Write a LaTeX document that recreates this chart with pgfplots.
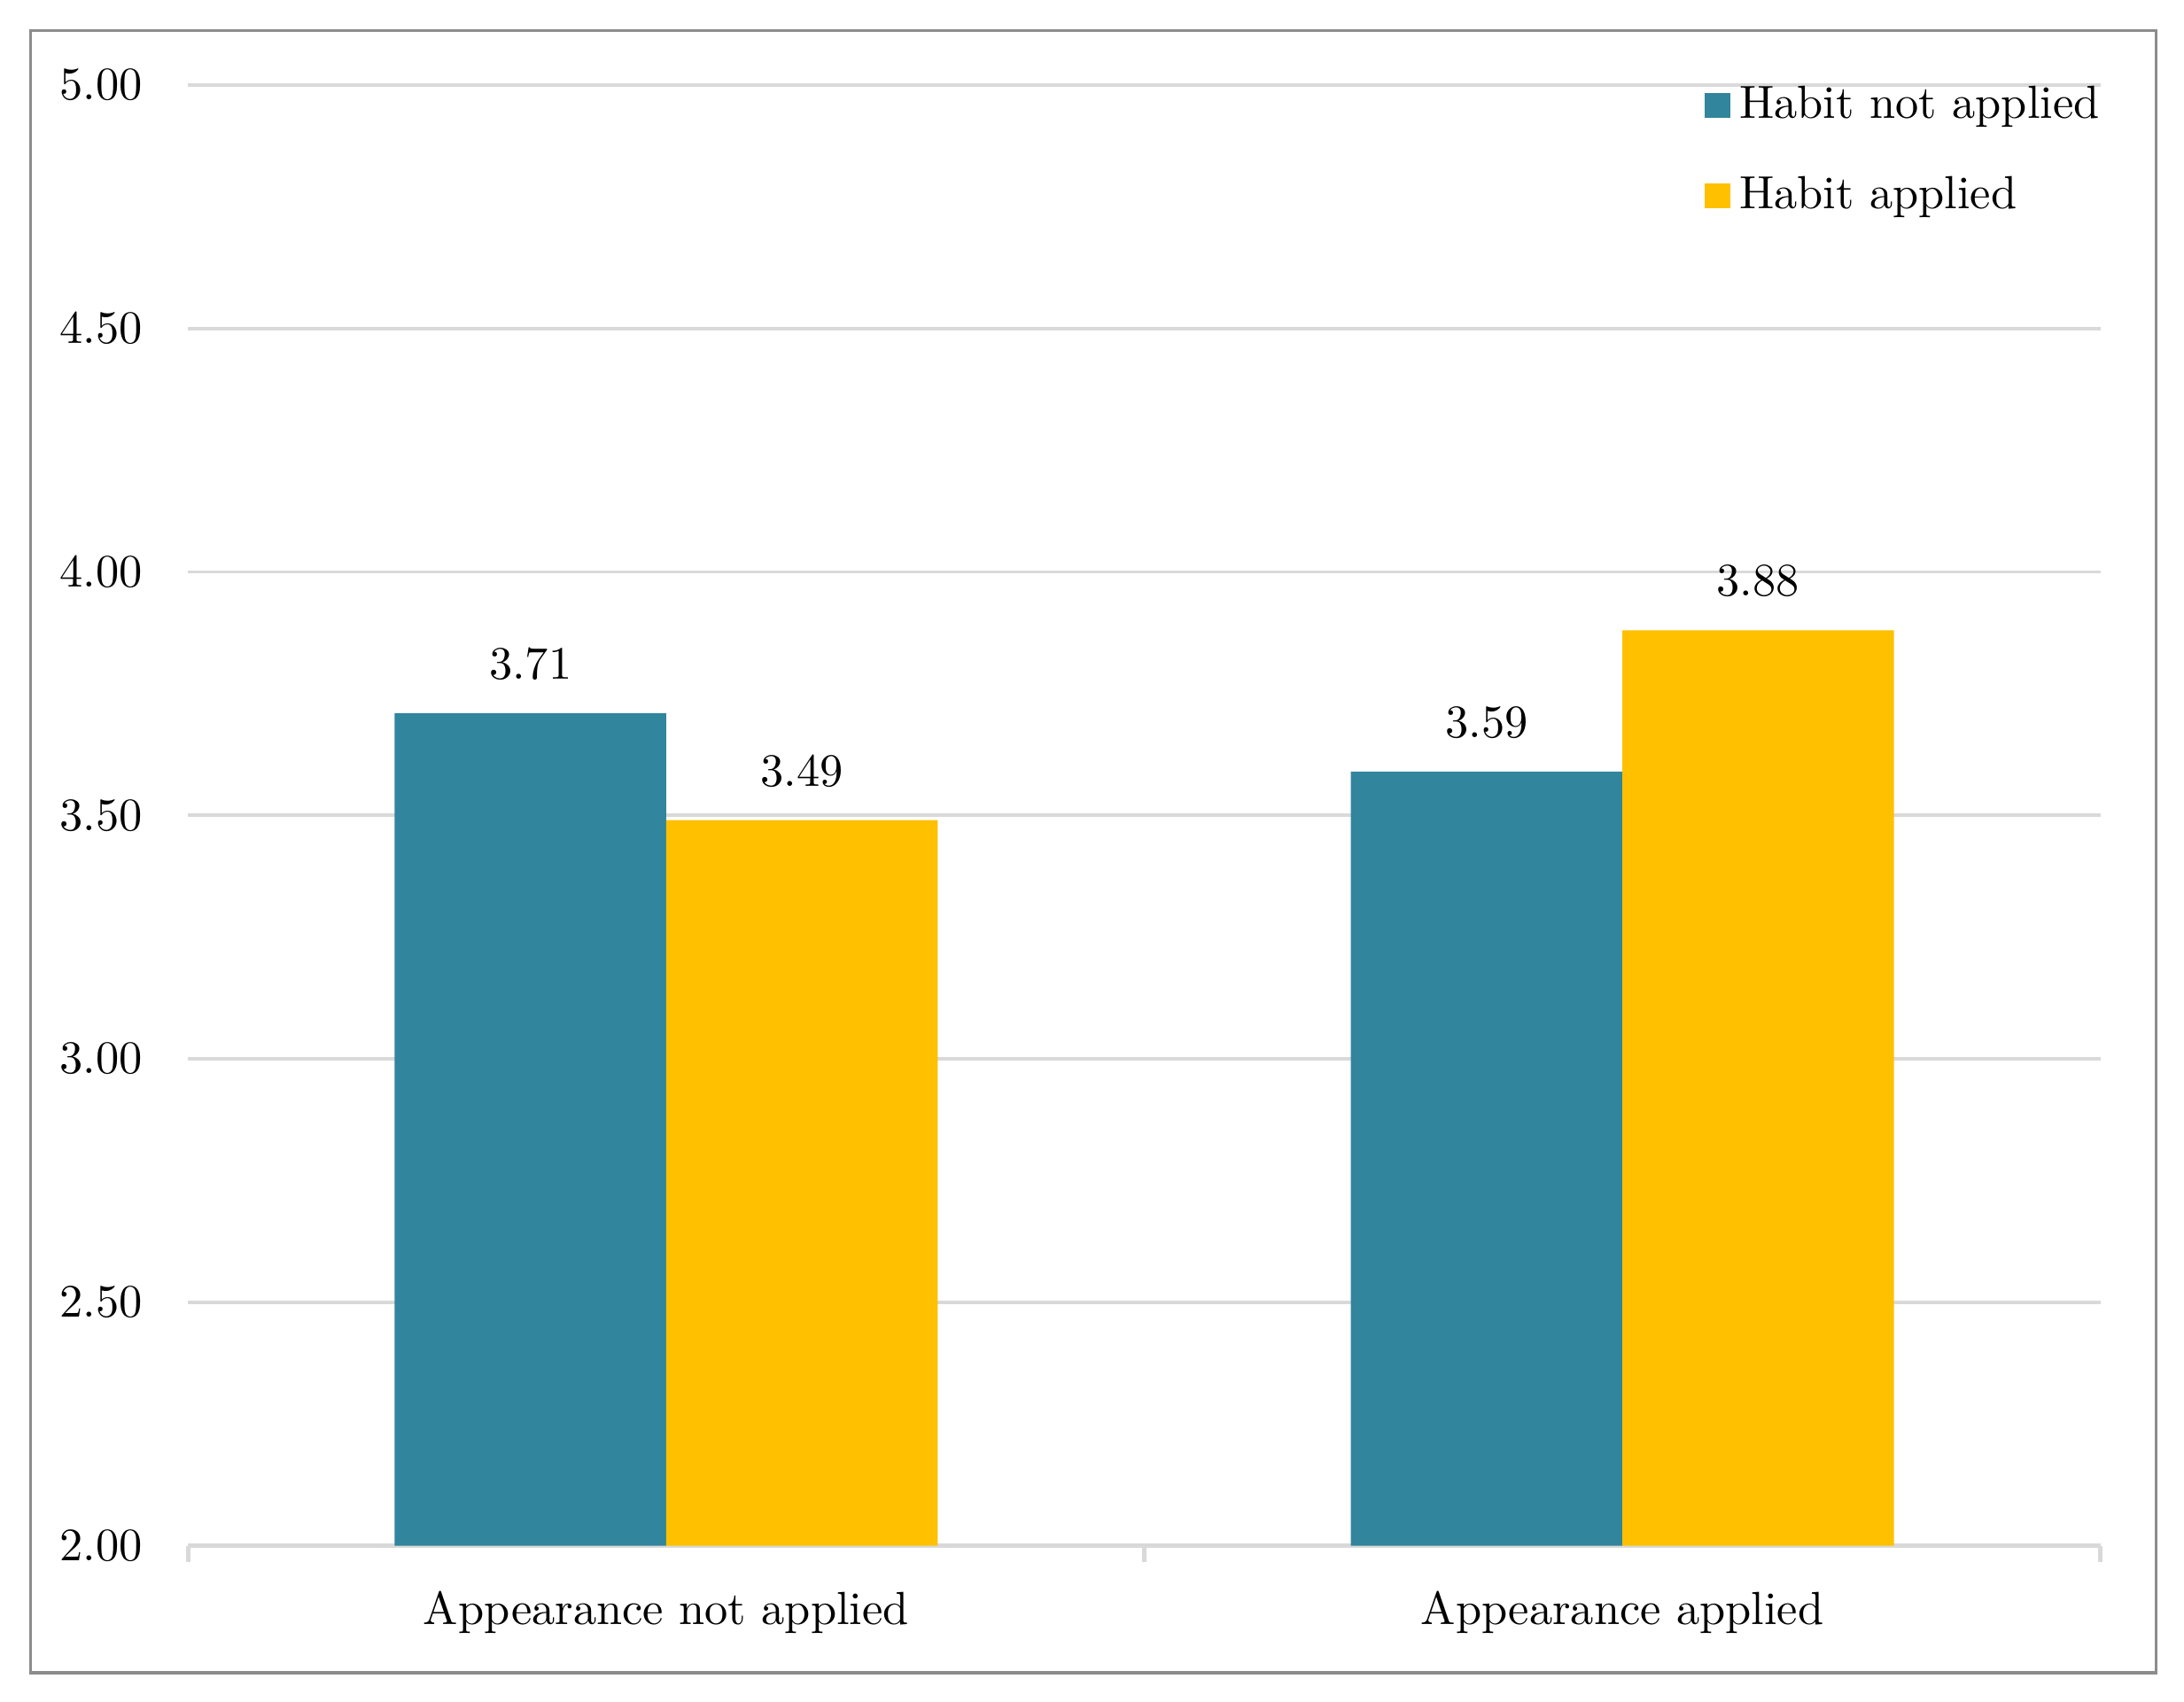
\documentclass[border=0pt]{standalone}
\usepackage{pgfplots}
\pgfplotsset{compat=1.18}
\definecolor{teal1}{HTML}{31859C}
\definecolor{gold1}{HTML}{FFC000}
\definecolor{gridc}{HTML}{D9D9D9}
\definecolor{framec}{HTML}{8C8C8C}
\begin{document}
\begin{tikzpicture}
\begin{axis}[
  scale only axis, width=411.6pt, height=314.4pt,
  xmin=-0.5, xmax=1.5, ymin=2, ymax=5,
  ybar=0pt, bar width=0.284,
  xtick={0,1}, xticklabels={Appearance not applied, Appearance applied},
  xticklabel style={font=\fontsize{10}{12}\selectfont, yshift=-2pt},
  ytick={2,2.5,3,3.5,4,4.5,5},
  yticklabel style={/pgf/number format/.cd, fixed, fixed zerofill, precision=2, /tikz/.cd, xshift=-6.3pt},
  ymajorgrids, grid style={gridc, line width=0.7pt},
  axis x line*=bottom, axis y line*=left,
  x axis line style={gridc, line width=1pt},
  y axis line style={draw=none},
  xtick style={draw=none}, ytick style={draw=none},
  extra x ticks={-0.5,0.5,1.5}, extra x tick labels={},
  extra x tick style={xtick style={draw=gridc, line width=1pt}, tick align=outside, major tick length=3.5pt},
  nodes near coords,
  nodes near coords style={/pgf/number format/.cd, fixed, fixed zerofill, precision=2, /tikz/.cd, yshift=3.8pt, black},
  legend style={at={(1,1)}, anchor=north east, draw=none, fill=none, inner sep=0pt, yshift=2pt, xshift=2pt,
    row sep=7pt, font=\fontsize{10}{12}\selectfont},
  legend cell align=left,
  legend image code/.code={\fill[#1] (0pt,-2.7pt) rectangle (5.4pt,2.7pt);},
]
\addplot[fill=teal1, draw=none] coordinates {(0,3.71) (1,3.59)};
\addplot[fill=gold1, draw=none] coordinates {(0,3.49) (1,3.88)};
\legend{Habit not applied, Habit applied}
\path (rel axis cs:0,0) coordinate (O);
\end{axis}
\draw[framec, line width=0.7pt] ([shift={(-33.9pt,-27.3pt)}]O) rectangle ([shift={(423.6pt,326.1pt)}]O);
\path ([shift={(-40.5pt,-33.6pt)}]O) rectangle ([shift={(429.6pt,332.7pt)}]O);
\end{tikzpicture}
\end{document}
